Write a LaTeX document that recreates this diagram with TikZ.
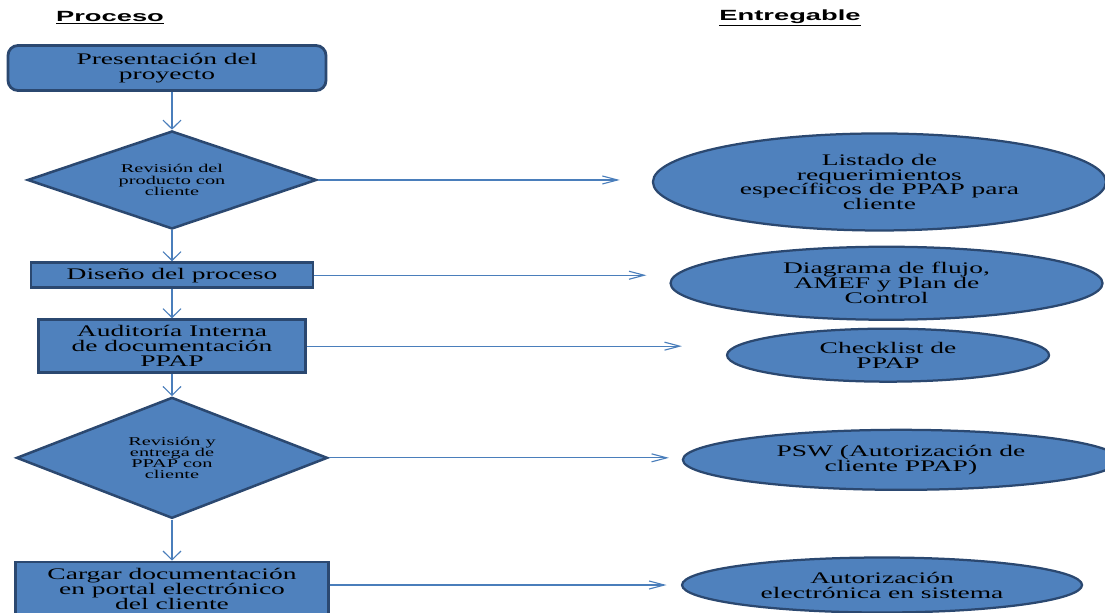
\documentclass[tikz,border=0pt]{standalone}
\usepackage{fontspec}
\setmainfont{Liberation Serif}
\newfontfamily\letraancha{Liberation Serif}[FakeStretch=1.7]
\newfontfamily\letratitulo{Liberation Sans}[FakeStretch=1.85]
\usetikzlibrary{arrows.meta,positioning,shapes.geometric}
\definecolor{relleno}{HTML}{4F81BD}
\definecolor{borde}{HTML}{2B4870}
\definecolor{linea}{HTML}{4A7EBB}

\begin{document}
\begin{tikzpicture}[
  x=0.25mm, y=-0.25mm,
  caja/.style={rectangle, draw=borde, line width=2pt, fill=relleno, align=center, inner sep=0pt, font=\letraancha\fontsize{11.5}{10.6}\selectfont},
  rombo/.style={diamond, aspect=2.9, draw=borde, line width=1.8pt, fill=relleno, align=center, inner sep=0pt, font=\letraancha\fontsize{8.5}{8}\selectfont},
  elipse/.style={ellipse, draw=borde, line width=1.6pt, fill=relleno, align=center, inner sep=0pt, font=\letraancha\fontsize{11.5}{10.6}\selectfont},
  titulo/.style={font=\letratitulo\bfseries\fontsize{10.5}{12}\selectfont},
  flechav/.style={-{Straight Barb[length=2.2mm, width=4.5mm]}, draw=linea, line width=0.8pt},
  flechah/.style={-{Straight Barb[length=3.8mm, width=2mm]}, draw=linea, line width=0.8pt}
]
\useasboundingbox (0,0) rectangle (1105,612);
\node[titulo] (proc) at (110,18) {\underline{Proceso}};
\node[titulo] (entr) at (790,18) {\underline{Entregable}};
% columna de proceso
\node[caja, rounded corners=2.5mm, minimum width=79.5mm, minimum height=11.25mm] (pres) at (167,68) {Presentación del\\proyecto};
\node[rombo, minimum width=72.25mm, minimum height=24.5mm, below=9.45mm of pres, xshift=1.25mm] (rev) {Revisión del\\producto con\\cliente};
\node[caja, minimum width=70.5mm, minimum height=6.3mm, below=7.75mm of rev] (dis) {Diseño del proceso};
\node[caja, minimum width=66.75mm, minimum height=13.25mm, below=7.25mm of dis] (aud) {Auditoría Interna\\de documentación\\PPAP};
\node[rombo, minimum width=77.75mm, minimum height=30.25mm, below=5.5mm of aud] (ent) {Revisión y\\entrega de\\PPAP con\\cliente};
\node[caja, minimum width=78.25mm, minimum height=13.5mm, below=10.25mm of ent] (car) {Cargar documentación\\en portal electrónico\\del cliente};
% columna de entregables
\node[elipse, minimum width=113.25mm, minimum height=24.25mm, right=83.5mm of rev, yshift=-0.5mm] (lis) {Listado de\\requerimientos\\específicos de PPAP para\\cliente};
\node[elipse, minimum width=108mm, minimum height=18.25mm, right=88.75mm of dis, yshift=-2mm] (dia) {Diagrama de flujo,\\AMEF y Plan de\\Control};
\node[elipse, minimum width=80.5mm, minimum height=13.25mm, right=104.75mm of aud, yshift=-2.25mm] (che) {Checklist de\\PPAP};
\node[elipse, minimum width=109mm, minimum height=15mm, right=88.25mm of ent, yshift=-0.5mm] (psw) {PSW (Autorización de\\cliente PPAP)};
\node[elipse, minimum width=100mm, minimum height=13.75mm, right=87.75mm of car, yshift=1mm] (aut) {Autorización\\electrónica en sistema};
% flechas
\draw[flechav] (pres.south -| rev.north) -- (rev);
\draw[flechav] (rev) -- (dis);
\draw[flechav] (dis) -- (aud);
\draw[flechav] (aud) -- (ent);
\draw[flechav] (ent) -- (car);
\draw[flechah, shorten >=8mm] (rev.east) -- (rev.east -| lis.west);
\draw[flechah, shorten >=5.75mm] (dis.east) -- (dis.east -| dia.west);
\draw[flechah, shorten >=11mm] (aud.east) -- (aud.east -| che.west);
\draw[flechah, shorten >=3.2mm] (ent.east) -- (ent.east -| psw.west);
\draw[flechah, shorten >=3.6mm] (car.east |- aut.west) -- (aut.west);
\end{tikzpicture}
\end{document}
